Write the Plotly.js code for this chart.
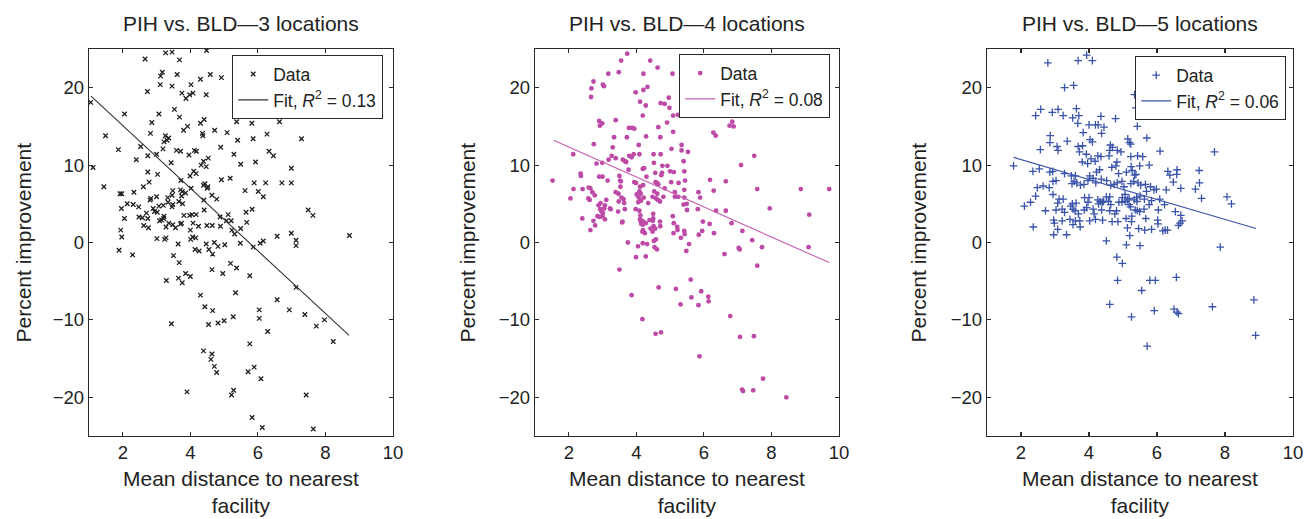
<!DOCTYPE html>
<html>
<head>
<meta charset="utf-8">
<script src="https://cdn.plot.ly/plotly-3.0.1.min.js"></script>
<style>html,body{margin:0;padding:0;background:#fff;}#chart{width:1304px;height:519px;}</style>
</head>
<body>
<div id="chart"></div>
<script>
// ---- Data ----
const panelTitles = ["PIH vs. BLD\u20143 locations", "PIH vs. BLD\u20144 locations", "PIH vs. BLD\u20145 locations"];
const xTitle = "Mean distance to nearest<br>facility";
const yTitle = "Percent improvement";
const xTicks = [2, 4, 6, 8, 10];
const yTicks = [-20, -10, 0, 10, 20];
const r2Labels = ["0.13", "0.08", "0.06"];

// [distance, percent improvement]
const pts3 = [[3.27,24.5],[3.46,24.6],[4.48,24.8],[2.66,23.7],[3.68,23.6],[3.17,22.0],[3.12,21.5],[3.61,21.7],[4.59,21.7],[4.92,21.3],[4.30,21.1],
[3.11,20.4],[3.46,20.2],[4.02,20.4],[2.73,19.5],[3.75,19.3],[4.08,19.3],[3.98,19.1],[3.87,18.6],[4.47,19.1],[1.05,18.1],
[3.53,17.2],[3.68,16.2],[2.05,16.6],[3.07,16.6],[6.44,16.6],[6.64,15.6],[2.86,15.5],[4.30,15.4],[4.41,15.9],[5.37,15.6],[5.82,15.4],
[3.80,14.5],[3.92,15.0],[4.36,14.1],[4.37,13.8],[4.72,14.5],[5.09,14.2],[2.82,14.1],[1.49,13.8],[5.86,13.4],[6.27,14.0],[7.29,13.4],
[3.26,13.8],[3.31,13.2],[3.36,13.5],[3.22,13.0],[3.19,12.1],[3.59,11.9],[3.71,11.8],[3.96,11.3],[4.12,11.9],[4.18,11.8],[4.90,12.3],[5.40,13.2],[6.33,11.8],[6.46,11.2],
[2.53,12.4],[2.40,10.7],[3.00,11.4],[1.87,12.0],[1.12,9.7],[2.74,11.2],[4.53,10.9],[5.29,11.4],[4.39,10.5],[4.32,10.0],[4.47,9.8],[5.49,10.1],[5.93,10.4],[6.99,9.6],[3.43,10.3],
[3.03,8.8],[2.74,9.1],[4.10,9.2],[4.17,8.9],[3.99,8.6],[4.92,8.1],[5.18,8.3],[2.61,7.2],[2.78,7.8],[2.33,6.5],[1.44,7.2],[3.72,8.0],[4.43,7.6],[4.39,7.4],[4.52,7.2],[4.50,7.0],[3.71,6.8],[3.48,6.7],[5.89,7.7],[6.23,7.7],[5.62,6.7],[6.01,6.6],[6.71,7.7],[6.99,7.7],[6.16,5.9],
[3.76,6.6],[3.86,6.4],[4.02,7.0],[1.92,6.3],[1.97,6.3],[3.46,6.1],[3.33,5.8],[3.74,6.0],[4.40,5.5],[4.64,6.1],[4.78,5.6],[5.65,3.9],[5.83,4.3],[7.49,4.2],[7.63,3.5],
[2.13,5.0],[2.31,4.9],[2.47,4.6],[3.00,5.9],[2.83,5.7],[2.81,5.5],[3.07,4.7],[3.20,4.8],[3.34,5.2],[3.48,4.9],[3.46,4.6],[3.66,5.3],[3.77,5.0],
[1.96,4.4],[2.05,3.1],[2.48,3.3],[2.58,3.2],[2.62,2.2],[2.74,3.1],[2.70,3.8],[2.76,1.9],[2.90,4.4],[2.94,4.0],[3.02,3.9],[3.09,2.8],[3.15,2.9],[3.21,3.1],[3.22,3.4],[3.28,2.0],[3.36,2.5],[3.48,2.3],[3.56,1.9],[3.71,2.4],[3.81,3.5],[3.74,2.5],[3.98,3.5],[4.05,3.6],[4.17,3.6],[4.00,1.6],[4.08,2.5],[4.07,0.7],[4.16,0.6],[4.24,2.1],[4.41,4.2],[4.49,2.2],[4.65,2.2],[4.88,3.3],[4.89,2.1],[5.12,3.6],[5.07,2.8],[5.21,2.8],[5.23,1.6],[5.31,1.1],[5.49,1.8],[5.67,2.6],
[6.57,0.8],[6.99,1.2],[7.13,0.3],[7.13,-0.4],[8.71,0.9],[1.94,1.6],[1.97,0.7],[1.89,-1.0],[3.01,0.5],[3.24,0.4],[3.28,0.6],[3.64,-0.2],[4.01,0.4],[4.14,-0.9],[4.26,-1.1],[4.47,-0.2],[4.55,-0.9],[4.66,-1.5],[4.71,0.0],[4.82,-0.5],[5.02,-0.3],[5.48,-0.1],[5.86,-0.6],[6.07,-0.1],[6.16,0.2],
[2.29,-1.6],[3.50,-1.7],[3.67,-2.6],[3.29,-4.9],[3.65,-4.6],[3.76,-5.2],[3.86,-4.0],[4.00,-4.4],[4.64,-3.5],[4.96,-4.0],[5.19,-2.7],[5.37,-3.3],[5.76,-4.3],[4.30,-6.8],[5.34,-6.5],[4.43,-8.3],[4.66,-8.8],
[3.44,-10.5],[4.54,-10.6],[4.82,-10.4],[5.00,-10.1],[5.27,-9.6],[6.04,-8.7],[6.04,-9.8],[6.29,-11.5],[6.57,-7.4],[6.93,-8.7],[7.13,-5.8],[7.39,-9.3],[7.73,-10.8],[7.97,-10.0],[8.23,-12.8],[5.76,-13.1],
[4.39,-14.0],[4.64,-14.4],[4.61,-15.1],[4.71,-16.0],[4.78,-16.8],[5.71,-16.7],[5.89,-16.1],[6.09,-17.6],[3.90,-19.3],[5.22,-19.7],[5.28,-19.1],[7.43,-19.7],[5.83,-22.6],[6.13,-23.9],[7.64,-24.1]];

const pts4 = [[3.73,24.4],[4.41,23.5],[3.55,23.5],[4.63,22.6],[3.48,22.0],[3.17,21.8],[5.07,21.8],[4.21,21.8],[2.73,20.8],[3.01,20.4],[3.04,20.2],[2.67,19.9],[3.98,19.4],[4.21,19.7],[4.33,20.1],[2.66,18.8],[4.11,18.2],[4.28,17.7],[4.72,18.0],[4.84,17.9],[4.96,18.7],[4.98,17.4],[5.09,16.4],[5.23,16.5],[4.19,16.4],
[2.90,15.7],[2.92,15.1],[2.99,15.4],[3.39,15.8],[3.78,14.8],[3.88,14.8],[3.94,14.7],[3.72,13.6],[3.34,13.6],[4.29,13.7],[4.65,14.9],[4.71,13.6],[4.91,15.5],[5.09,14.3],[4.07,12.6],[2.74,12.7],[3.30,12.3],[3.27,11.2],[3.39,10.9],[3.18,10.7],
[3.79,11.2],[3.86,11.0],[3.92,11.4],[4.09,11.4],[4.51,11.4],[4.72,11.4],[4.19,9.5],[4.23,9.6],[4.30,8.5],[5.04,12.1],[5.34,12.6],[5.53,11.7],[5.40,10.5],[4.52,10.3],[4.77,9.9],[4.56,9.0],[4.76,9.0],[4.74,8.7],[4.92,9.9],[5.00,9.2],[5.11,9.1],[5.42,9.2],
[3.60,10.7],[3.66,10.5],[3.70,10.4],[3.77,9.4],[2.90,8.5],[2.82,10.2],[3.00,8.5],[2.35,8.9],[2.36,8.6],[2.14,6.9],[2.41,6.9],[2.05,5.7],[2.59,7.1],[2.64,7.0],[2.70,6.5],[2.77,6.1],[3.15,8.0],[3.50,8.6],[3.52,8.0],[3.47,6.3],[3.48,5.3],[3.54,7.9],[3.53,7.2],[3.56,5.8],[3.62,5.6],[3.64,5.1],
[3.94,7.8],[3.99,7.7],[4.11,7.2],[4.20,7.4],[4.09,6.6],[4.13,6.3],[4.07,5.8],[4.14,5.4],[4.22,5.8],[4.35,5.1],[4.48,5.9],[4.53,6.6],[4.57,7.8],[4.61,7.7],[4.65,7.5],[4.62,6.3],[4.58,5.7],[4.64,5.5],[4.70,5.3],[4.80,5.9],[4.84,7.0],[5.03,7.8],[5.25,7.7],[5.14,6.5],[5.14,5.9],[5.24,5.9],[5.42,5.8],[5.44,8.0],[5.42,6.8],[5.49,5.0],[5.40,4.9],[5.50,4.2],
[5.84,6.5],[5.89,5.8],[5.82,4.3],[6.18,8.1],[6.29,6.7],[6.36,4.1],[6.65,4.1],[6.65,7.9],[7.10,10.0],[7.58,6.9],[7.49,11.2],[6.76,15.1],[6.84,15.6],[6.88,15.0],[6.28,14.2],[6.35,13.8],[8.87,6.9],[9.71,6.9],[7.95,4.4],[9.12,3.6],[5.34,11.9],[2.99,10.3],[1.52,8.0],[2.13,11.4],
[2.64,1.6],[2.40,3.1],[2.58,5.7],[2.62,5.5],[2.73,2.8],[2.78,2.2],[2.85,3.4],[2.88,4.8],[2.93,4.3],[2.97,4.0],[3.01,3.8],[3.07,3.0],[2.92,3.3],[3.00,3.4],[3.05,4.4],[2.94,5.1],[3.07,4.8],[3.11,5.5],[3.22,4.4],[3.24,4.3],[3.39,6.5],[3.46,4.0],[3.58,2.6],[3.66,4.3],[3.59,2.7],
[3.98,4.3],[4.01,6.2],[4.06,5.2],[4.09,4.1],[4.12,3.5],[4.11,3.0],[4.13,2.7],[4.15,2.4],[4.17,2.8],[4.19,2.3],[4.23,2.6],[4.28,2.5],[4.20,1.6],[4.25,1.2],[4.32,-0.2],[4.18,1.4],[4.50,3.7],[4.50,3.1],[4.49,2.8],[4.51,2.1],[4.56,1.8],[4.39,2.9],[4.42,1.8],[4.48,1.4],[4.54,-0.6],[4.61,-0.9],[4.58,0.4],[4.52,0.2],[4.70,2.7],[4.71,2.1],
[5.08,3.4],[5.11,2.5],[5.21,2.0],[5.32,0.6],[5.42,1.5],[5.43,1.1],[5.56,-0.2],[5.48,-1.1],[5.10,1.2],[5.22,1.6],[5.85,1.0],[5.97,2.7],[5.95,1.5],[6.17,2.4],[6.30,1.2],[3.75,0.0],[3.99,-1.9],[4.05,-0.5],[4.19,-0.1],[4.28,-1.8],
[6.82,2.5],[6.61,-1.5],[7.14,1.5],[7.03,-0.7],[7.06,-0.9],[7.43,0.3],[7.72,-0.6],[7.58,-3.0],[9.10,-0.6],
[3.50,-3.5],[3.86,-6.8],[4.18,-9.9],[4.57,-11.8],[4.73,-11.6],[4.66,-5.8],[5.17,-6.0],[5.31,-8.0],[5.61,-4.8],[5.63,-7.1],[5.84,-8.1],[5.92,-6.3],[6.13,-7.0],[6.14,-7.6],[5.87,-14.7],[6.78,-9.5],[7.07,-12.2],[7.48,-12.1],[7.13,-19.0],[7.16,-19.2],[7.46,-19.1],[7.75,-17.6],[8.44,-20.0]];

const pts5 = [[2.79,23.2],[3.68,23.5],[3.93,24.2],[4.10,23.5],[3.28,20.0],[3.55,20.3],[5.34,19.1],[5.38,17.4],[2.43,16.4],[2.58,17.2],[2.92,16.8],[3.09,17.2],[3.24,16.4],[3.52,16.1],[3.63,17.3],[3.70,16.4],[4.35,16.3],[4.78,16.0],
[2.86,13.8],[2.85,12.9],[3.06,12.4],[3.09,11.9],[2.57,12.0],[3.36,13.1],[3.67,15.4],[3.83,14.2],[4.03,13.3],[4.10,13.0],[4.19,15.2],[4.00,15.2],[4.27,15.2],[4.37,14.1],[4.44,14.9],[4.63,12.6],[4.69,12.3],[4.83,11.9],[4.94,11.7],[5.14,13.4],[5.19,12.9],[5.23,12.7],[5.42,15.0],[5.70,13.5],[5.94,16.6],[6.09,11.8],[5.23,11.1],[5.43,11.2],[5.58,11.1],
[3.68,12.4],[3.81,12.5],[3.92,11.4],[3.72,11.7],[3.80,10.4],[3.96,10.2],[4.06,10.8],[4.18,10.5],[4.26,11.2],[4.35,11.1],[4.59,11.2],[4.61,11.9],[4.67,9.7],[4.79,9.9],[4.87,8.9],[4.82,10.4],[5.24,9.8],[5.27,9.3],[5.49,9.9],[5.38,8.8],[5.77,10.0],[5.91,6.8],[5.98,6.9],[6.08,5.6],[6.27,6.8],[6.32,9.2],[6.38,8.7],[6.59,9.4],[6.58,8.8],[6.48,7.8],[6.70,7.0],[7.13,6.9],[7.25,7.7],[7.24,9.3],[7.31,5.7],[7.69,11.7],[8.06,5.9],[8.19,5.0],
[1.78,9.9],[2.35,9.2],[2.54,9.5],[2.85,9.1],[2.93,9.2],[2.94,7.9],[2.48,7.1],[2.65,7.3],[2.83,7.1],[3.03,8.0],[3.28,8.9],[3.48,8.6],[3.50,7.6],[3.56,7.9],[3.60,8.6],[3.64,7.7],[3.75,7.4],[3.85,7.5],[3.97,8.0],[4.02,8.6],[4.12,8.3],[4.20,7.7],[4.22,9.1],[4.31,9.4],[4.36,8.2],[4.52,8.0],[4.64,7.4],[4.61,5.9],[4.74,7.5],[4.83,7.7],[4.97,7.9],[5.03,7.2],[5.10,9.1],[5.23,7.6],[5.31,7.9],[5.34,8.7],[5.44,7.7],[5.52,7.4],[5.66,7.5],[5.81,7.2],
[5.06,6.2],[4.98,5.8],[5.18,5.7],[5.33,5.5],[5.40,5.8],[5.41,5.3],[5.50,6.0],[5.63,5.6],[5.77,4.9],[5.84,5.4],[5.69,6.6],[6.04,4.2],[6.22,4.9],[6.54,4.0],[6.70,3.5],[6.63,2.2],[6.68,2.5],[6.74,2.8],[6.24,1.6],[6.17,1.5],[6.31,1.6],
[2.10,4.7],[2.28,5.2],[2.36,2.0],[2.43,6.0],[2.72,4.1],[2.94,6.2],[3.03,4.2],[3.12,5.6],[3.08,5.1],[3.21,4.3],[3.24,5.6],[2.96,2.9],[2.98,2.5],[3.08,1.7],[2.96,1.0],[3.21,2.8],[3.28,3.9],[3.34,1.0],[3.46,4.7],[3.51,5.0],[3.53,4.3],[3.59,4.1],[3.69,3.7],[3.73,2.8],[3.62,5.1],[3.60,2.8],[3.53,2.3],[3.74,2.0],[3.44,3.0],
[3.86,4.2],[3.87,5.8],[3.93,4.5],[3.97,5.2],[4.00,5.8],[4.02,2.8],[4.12,4.3],[4.15,3.7],[4.19,3.0],[4.26,5.5],[4.28,5.0],[4.33,5.3],[4.39,5.2],[4.37,4.2],[4.40,2.9],[4.43,5.3],[4.51,5.9],[4.57,5.3],[4.61,4.1],[4.64,4.9],[4.68,2.7],[4.76,3.7],[4.81,4.1],[4.85,2.7],[4.88,5.2],[4.97,5.2],[5.06,5.3],[5.13,5.5],[5.18,4.9],[5.22,4.6],[5.09,3.1],[5.26,3.4],[5.13,1.9],[5.25,2.7],[5.20,0.9],[5.36,4.2],[5.42,4.1],[5.49,4.0],[5.62,4.3],[5.67,3.1],[5.46,1.8],[5.64,1.6],[5.84,1.7],[6.02,2.9],[6.03,2.4],
[4.51,0.2],[5.10,-0.3],[5.50,-0.4],[7.86,-0.6],[4.82,-1.9],[4.98,-2.7],[4.84,-4.9],[5.79,-4.9],[5.95,-4.9],[5.55,-6.2],[6.57,-4.5],[4.61,-8.0],[5.25,-9.6],[5.92,-8.8],[6.50,-8.6],[6.59,-9.0],[6.63,-9.2],[7.63,-8.3],[8.85,-7.4],[8.90,-12.0],[5.71,-13.4]];

// Fitted line end points
const fit3X = [1.06, 8.70], fit3Y = [18.9, -12.0];
const fit4X = [1.55, 9.71], fit4Y = [13.2, -2.6];
const fit5X = [1.78, 8.91], fit5Y = [11.0, 1.8];

// ---- Styling ----
const FONT = '"Liberation Sans", Arial, Helvetica, sans-serif';
const TXT = '#222222';
const colors = ['#1e1e1e', '#bd4aa6', '#3953aa'];
const lineColors = ['#333333', '#c560b2', '#3a54ab'];
const domainsX = [[89/1304, 393/1304], [535/1304, 839/1304], [987/1304, 1293/1304]];
const domainY = [1 - 436/519, 1 - 49/519];
const legendPos = [[383/1304, 1 - 55/519], [830/1304, 1 - 54/519], [1286/1304, 1 - 56/519]];
const yTitleX = [23/1304, 467/1304, 918/1304];

const allPts = [pts3, pts4, pts5];
const fits = [[fit3X, fit3Y], [fit4X, fit4Y], [fit5X, fit5Y]];
const markers = [
  {symbol: 'x-thin', size: 4.5, color: colors[0], line: {width: 1.3, color: colors[0]}},
  {symbol: 'circle', size: 4.8, color: colors[1], line: {width: 0}},
  {symbol: 'cross-thin', size: 5.5, color: colors[2], line: {width: 1.3, color: colors[2]}}
];

const traces = [];
const layout = {
  width: 1304, height: 519,
  margin: {l: 0, r: 0, t: 0, b: 0},
  paper_bgcolor: '#ffffff', plot_bgcolor: '#ffffff',
  font: {family: FONT, color: TXT, size: 18},
  showlegend: true,
  annotations: []
};

for (let i = 0; i < 3; i++) {
  const ax = i === 0 ? '' : String(i + 1);
  const lg = i === 0 ? 'legend' : 'legend' + (i + 1);
  traces.push({
    type: 'scatter', mode: 'markers', name: 'Data',
    x: allPts[i].map(p => p[0]), y: allPts[i].map(p => p[1]),
    xaxis: 'x' + ax, yaxis: 'y' + ax, legend: lg,
    marker: markers[i], hoverinfo: 'x+y'
  });
  traces.push({
    type: 'scatter', mode: 'lines', name: 'Fit, <i>R</i><sup>2</sup> = ' + r2Labels[i],
    x: fits[i][0], y: fits[i][1],
    xaxis: 'x' + ax, yaxis: 'y' + ax, legend: lg,
    line: {color: lineColors[i], width: 1.1}
  });
  const common = {
    showgrid: false, zeroline: false, showline: true, linecolor: '#2a2a2a', linewidth: 1.2,
    mirror: 'ticks', ticks: 'inside', ticklen: 4, tickwidth: 1.2, tickcolor: '#2a2a2a',
    tickfont: {family: FONT, size: 18.5, color: TXT}
  };
  layout['xaxis' + ax] = Object.assign({}, common, {
    domain: domainsX[i], range: [1, 10], tickmode: 'array', tickvals: xTicks,
    ticktext: xTicks.map(String), anchor: 'y' + ax
  });
  layout['yaxis' + ax] = Object.assign({}, common, {
    domain: domainY, range: [-25, 25], tickmode: 'array', tickvals: yTicks,
    ticktext: yTicks.map(v => v < 0 ? '\u2212' + Math.abs(v) : String(v)), anchor: 'x' + ax
  });
  layout[lg] = {
    x: legendPos[i][0], y: legendPos[i][1], xanchor: 'right', yanchor: 'top',
    bgcolor: '#ffffff', bordercolor: '#2a2a2a', borderwidth: 1.2,
    font: {family: FONT, size: 17.5, color: TXT}, tracegroupgap: 0, itemwidth: 30
  };
  const cx = (domainsX[i][0] + domainsX[i][1]) / 2;
  layout.annotations.push({
    text: panelTitles[i], xref: 'paper', yref: 'paper', x: cx, y: 1 - 24/519,
    xanchor: 'center', yanchor: 'middle', showarrow: false,
    font: {family: FONT, size: 21, color: TXT}
  });
  layout.annotations.push({
    text: xTitle, xref: 'paper', yref: 'paper', x: cx, y: 1 - 492/519,
    xanchor: 'center', yanchor: 'middle', showarrow: false,
    font: {family: FONT, size: 21, color: TXT}
  });
  layout.annotations.push({
    text: yTitle, xref: 'paper', yref: 'paper', x: yTitleX[i], y: (domainY[0] + domainY[1]) / 2,
    xanchor: 'center', yanchor: 'middle', textangle: -90, showarrow: false,
    font: {family: FONT, size: 21, color: TXT}
  });
}

Plotly.newPlot('chart', traces, layout, {staticPlot: true, displayModeBar: false});
</script>
</body>
</html>
